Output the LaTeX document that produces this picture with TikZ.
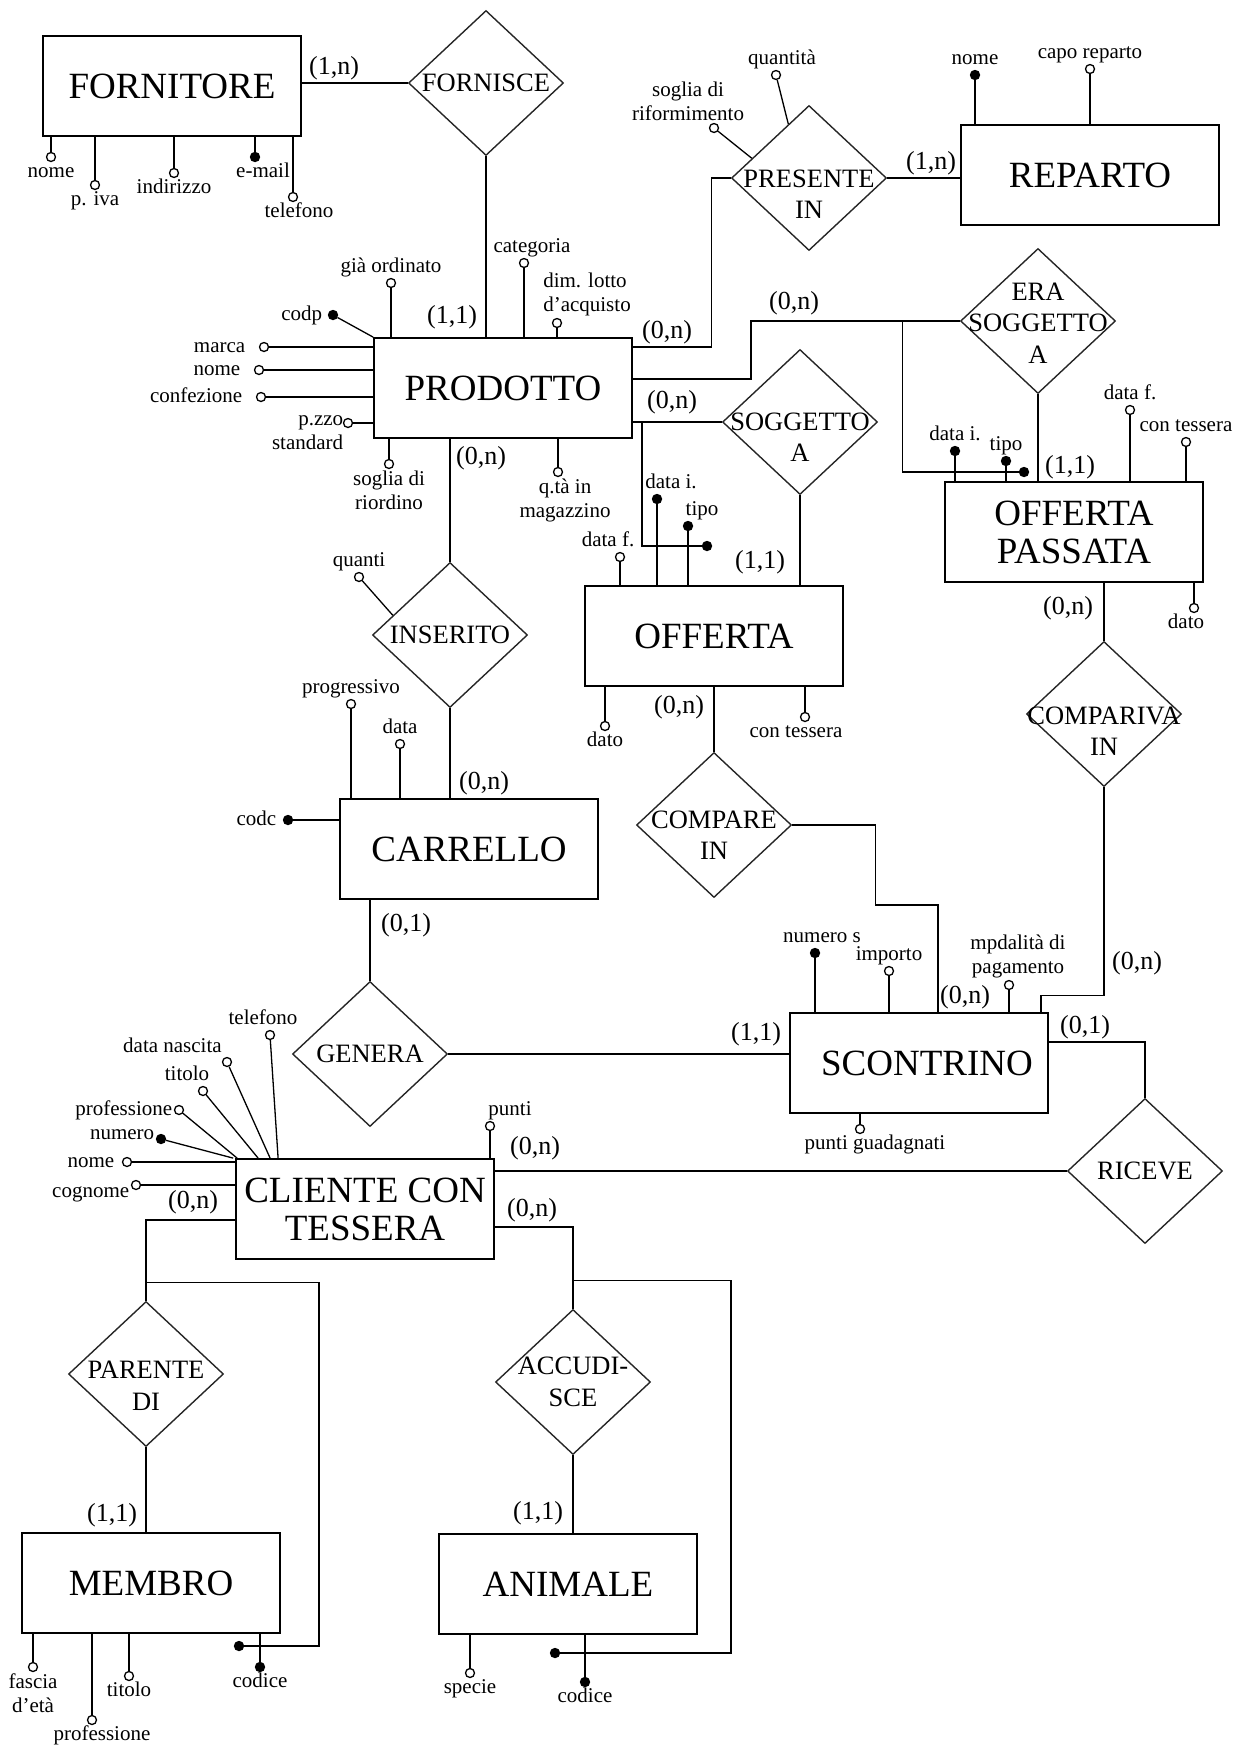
\documentclass[tikz,border=0pt]{standalone}
\usepackage{fontspec}
\setmainfont{Liberation Serif}
\usetikzlibrary{shapes.geometric, positioning, calc}

\begin{document}
\begin{tikzpicture}[
    x=1pt, y=-1pt, line width=1.3pt,
    entity/.style={draw, line width=1.8pt, minimum width=258pt, minimum height=100pt, align=center, font=\fontsize{37}{38}\selectfont},
    rel/.style={draw=black!85, diamond, line width=1.4pt, inner sep=0pt, minimum width=155pt, minimum height=145pt},
    reltxt/.style={inner sep=0pt, align=center, font=\fontsize{26.5}{31.5}\selectfont},
    attr/.style={circle, draw, fill=white, line width=1.3pt, inner sep=0pt, minimum size=9pt, label distance=2pt},
    key/.style={attr, fill=black},
    abase/.style={inner sep=1pt, font=\fontsize{21}{24}\selectfont},
    alab/.style={abase, text height=14pt, text depth=4pt},
    alab2/.style={abase, align=center},
    card/.style={inner sep=0pt, font=\fontsize{26}{28}\selectfont},
]
\useasboundingbox (0,0) rectangle (1245,1751);

% Entities
\node[entity] (fornitore) at (172,86) {FORNITORE};
\node[entity] (reparto) at (1090,175) {REPARTO};
\node[entity] (prodotto) at (503,388) {PRODOTTO};
\node[entity] (offpass) at (1074,532) {OFFERTA\\PASSATA};
\node[entity] (offerta) at (714,636) {OFFERTA};
\node[entity] (carrello) at (469,849) {CARRELLO};
\node[entity] (scontrino) at (919,1063) {\hspace*{16pt}SCONTRINO};
\node[entity] (cliente) at (365,1209) {CLIENTE CON\\TESSERA};
\node[entity] (membro) at (151,1583) {MEMBRO};
\node[entity] (animale) at (568,1584) {ANIMALE};

% Relationships
\node[rel, label={[reltxt]center:FORNISCE}] (fornisce) at (486,83) {};
\node[rel, label={[reltxt, yshift=-16pt]center:PRESENTE\\IN}] (presente) at (809,178) {};
\node[rel, label={[reltxt, yshift=-2pt]center:ERA\\SOGGETTO\\A}] (erasogg) at (1038,321) {};
\node[rel, label={[reltxt, yshift=-15pt]center:SOGGETTO\\A}] (soggetto) at (800,422) {};
\node[rel, label={[reltxt]center:INSERITO}] (inserito) at (450,635) {};
\node[rel, label={[reltxt, yshift=-10pt]center:COMPARE\\IN}] (compare) at (714,825) {};
\node[rel, label={[reltxt, yshift=-17pt]center:COMPARIVA\\IN}] (comparivain) at (1104,714) {};
\node[rel, label={[reltxt]center:GENERA}] (genera) at (370,1054) {};
\node[rel, label={[reltxt]center:RICEVE}] (riceve) at (1145,1171) {};
\node[rel, label={[reltxt, yshift=-12pt]center:PARENTE\\DI}] (parente) at (146,1374) {};
\node[rel, label={[reltxt]center:ACCUDI-\\SCE}] (accudisce) at (573,1382) {};

% Links
\draw (fornitore.east |- fornisce.west) -- (fornisce.west);
\draw (fornisce.south) -- (fornisce.south |- prodotto.north);
\draw (presente.east) -- (presente.east -| reparto.west);
\draw ([yshift=-10pt]prodotto.north east) -| ([xshift=-19pt]presente.west) -- (presente.west);
\draw ([yshift=9pt]prodotto.east) -- ++(118,0) |- (erasogg.west);
\draw (prodotto.east |- soggetto.west) -- (soggetto.west);
\draw (erasogg.south) -- (erasogg.south |- offpass.north);
\draw (soggetto.south) -- (soggetto.south |- offerta.north);
\draw (inserito.north |- prodotto.south) -- (inserito.north);
\draw (inserito.south) -- (inserito.south |- carrello.north);
\draw (comparivain.north |- offpass.south) -- (comparivain.north);
\draw (comparivain.south) -- ++(0,208) -| ([xshift=-8pt]scontrino.north east);
\draw (compare.north |- offerta.south) -- (compare.north);
\draw (compare.east) -| ++(83,80) -| ([xshift=149pt]scontrino.north west);
\draw (genera.north |- carrello.south) -- (genera.north);
\draw (genera.east) -- (genera.east -| scontrino.west);
\draw ([yshift=21pt]scontrino.east) -| (riceve.north);
\draw (riceve.west) -- (riceve.west -| cliente.east);
\draw ([yshift=-18pt]cliente.east) -| (accudisce.north);
\draw ([yshift=-11pt]cliente.west) -| (parente.north);
\draw (parente.south) -- (parente.south |- membro.north);
\draw (accudisce.south) -- (accudisce.south |- animale.north);

% External identifiers
\node[key] (opkey) at (1024,472) {};
\node[key] (ofkey) at (707,546) {};
\node[key] (mkey) at (239,1646) {};
\node[key] (akey) at (555,1653) {};
\coordinate (jsog) at ($(prodotto.east |- soggetto.west)+(9,0)$);
\draw ([xshift=-57pt]erasogg.west) |- (opkey);
\draw (jsog) |- (ofkey);
\draw ($(parente.north)+(0,-18)$) -- ++(173,0) |- (mkey);
\draw ($(accudisce.north)+(0,-28)$) -- ++(158,0) |- (akey);

% Cardinalities
\node[card] (c1) at (334,68) {(1,n)};
\node[card] (c2) at (452,317) {(1,1)};
\node[card] (c3) at (667,332) {(0,n)};
\node[card] (c4) at (931,163) {(1,n)};
\node[card] (c5) at (794,303) {(0,n)};
\node[card] (c6) at (672,402) {(0,n)};
\node[card] (c7) at (1070,467) {(1,1)};
\node[card] (c8) at (760,562) {(1,1)};
\node[card] (c9) at (481,458) {(0,n)};
\node[card] (c10) at (484,783) {(0,n)};
\node[card] (c11) at (679,707) {(0,n)};
\node[card] (c12) at (1068,608) {(0,n)};
\node[card] (c13) at (406,925) {(0,1)};
\node[card] (c14) at (756,1034) {(1,1)};
\node[card] (c15) at (965,997) {(0,n)};
\node[card] (c16) at (1137,963) {(0,n)};
\node[card] (c17) at (1085,1027) {(0,1)};
\node[card] (c18) at (535,1148) {(0,n)};
\node[card] (c19) at (532,1210) {(0,n)};
\node[card] (c20) at (193,1202) {(0,n)};
\node[card] (c21) at (112,1515) {(1,1)};
\node[card] (c22) at (538,1513) {(1,1)};

% Attributes: FORNITORE
\node[attr, label={[alab]below:nome}] (fnome) at (51,157) {};
\node[attr, label={[alab]below:p. iva}] (fiva) at (95,185) {};
\node[attr, label={[alab]below:indirizzo}] (find) at (174,173) {};
\node[key, label={[alab, xshift=8pt]below:e-mail}] (fmail) at (255,157) {};
\node[attr, label={[alab, xshift=6pt]below:telefono}] (ftel) at (293,197) {};
\foreach \a in {fnome, fiva, find, fmail, ftel}
    \draw (\a) -- (\a |- fornitore.south);

% Attributes: REPARTO and PRESENTE IN
\node[key, label={[alab]above:nome}] (rnome) at (975,75) {};
\node[attr, label={[alab]above:capo reparto}] (rcapo) at (1090,69) {};
\foreach \a in {rnome, rcapo}
    \draw (\a) -- (\a |- reparto.north);
\node[attr, label={[alab, xshift=6pt]above:quantità}] (pquant) at (776,75) {};
\node[attr, label={[alab2, xshift=-26pt]above:soglia di\\riformimento}] (psogl) at (714,128) {};
\draw (pquant) -- (presente.111);
\draw (psogl) -- (presente.161);

% Attributes: PRODOTTO
\node[attr, label={[alab]above:già ordinato}] (pgia) at (391,283) {};
\node[attr, label={[alab, xshift=8pt]above:categoria}] (pcat) at (524,263) {};
\node[attr, label={[alab2, align=left, xshift=30pt]above:dim. lotto\\d'acquisto}] (plotto) at (557,323) {};
\foreach \a in {pgia, pcat, plotto}
    \draw (\a) -- (\a |- prodotto.north);
\node[key, label={[alab, xshift=-4pt]left:codp}] (pcodp) at (333,315) {};
\draw (pcodp) -- (prodotto.north west);
\node[attr, label={[alab, xshift=-12pt]left:marca}] (pmarca) at (264,347) {};
\node[attr, label={[alab, xshift=-12pt]left:nome}] (pnome) at (259,370) {};
\node[attr, label={[alab, xshift=-12pt]left:confezione}] (pconf) at (261,397) {};
\node[attr, label={[alab2, align=right, xshift=2pt, yshift=-10pt]left:p.zzo\\standard}] (pprezzo) at (348,423) {};
\foreach \a in {pmarca, pnome, pconf, pprezzo}
    \draw (\a) -- (\a -| prodotto.west);
\node[attr, label={[alab2]below:soglia di\\riordino}] (priord) at (389,464) {};
\node[attr, label={[alab2, xshift=7pt]below:q.tà in\\magazzino}] (pqta) at (558,472) {};
\foreach \a in {priord, pqta}
    \draw (\a) -- (\a |- prodotto.south);

% Attributes: OFFERTA PASSATA
\node[key, label={[alab]above:data i.}] (opdatai) at (955,451) {};
\node[key, label={[alab]above:tipo}] (optipo) at (1006,461) {};
\node[attr, label={[alab]above:data f.}] (opdataf) at (1130,410) {};
\node[attr, label={[alab]above:con tessera}] (optess) at (1186,442) {};
\foreach \a in {opdatai, optipo, opdataf, optess}
    \draw (\a) -- (\a |- offpass.north);
\node[attr, label={[alab, xshift=-8pt]below:dato}] (opdato) at (1194,608) {};
\draw (opdato) -- (opdato |- offpass.south);

% Attributes: OFFERTA
\node[attr, label={[alab, xshift=-12pt]above:data f.}] (ofdataf) at (620,557) {};
\node[key, label={[alab, xshift=14pt]above:data i.}] (ofdatai) at (657,499) {};
\node[key, label={[alab, xshift=14pt]above:tipo}] (oftipo) at (688,526) {};
\foreach \a in {ofdataf, ofdatai, oftipo}
    \draw (\a) -- (\a |- offerta.north);
\node[attr, label={[alab]below:dato}] (ofdato) at (605,726) {};
\node[attr, label={[alab, xshift=-9pt]below:con tessera}] (oftess) at (805,717) {};
\foreach \a in {ofdato, oftess}
    \draw (\a) -- (\a |- offerta.south);

% Attributes: INSERITO and CARRELLO
\node[attr, label={[alab]above:quanti}] (iquanti) at (359,577) {};
\draw (iquanti) -- (inserito.161);
\node[attr, label={[alab]above:progressivo}] (cprog) at (351,704) {};
\node[attr, label={[alab]above:data}] (cdata) at (400,744) {};
\foreach \a in {cprog, cdata}
    \draw (\a) -- (\a |- carrello.north);
\node[key, label={[alab, xshift=-5pt]left:codc}] (ccodc) at (288,820) {};
\draw (ccodc) -- (ccodc -| carrello.west);

% Attributes: SCONTRINO
\node[key, label={[alab, xshift=7pt]above:numero s}] (snum) at (815,953) {};
\node[attr, label={[alab]above:importo}] (simp) at (889,971) {};
\node[attr, label={[alab2, xshift=9pt]above:mpdalità di\\pagamento}] (smod) at (1009,985) {};
\foreach \a in {snum, simp, smod}
    \draw (\a) -- (\a |- scontrino.north);
\node[attr, label={[alab, xshift=15pt]below:punti guadagnati}] (spunti) at (860,1129) {};
\draw (spunti) -- (spunti |- scontrino.south);

% Attributes: CLIENTE CON TESSERA
\node[attr, label={[alab, xshift=-7pt]above:telefono}] (ktel) at (270,1035) {};
\node[attr, label={[alab]above left:data nascita}] (knasc) at (227,1062) {};
\node[attr, label={[alab, xshift=-16pt]above:titolo}] (ktit) at (203,1091) {};
\node[attr, label={[alab]left:professione}] (kprof) at (179,1110) {};
\node[key, label={[alab, yshift=5pt]left:numero}] (knum) at (161,1139) {};
\draw (ktel) -- ([xshift=43pt]cliente.north west);
\draw (knasc) -- ([xshift=35pt]cliente.north west);
\draw (ktit) -- ([xshift=23pt]cliente.north west);
\draw (kprof) -- ([xshift=2pt]cliente.north west);
\draw (knum) -- ([xshift=-2pt]cliente.north west);
\node[attr, label={[alab, xshift=-6pt]left:nome}] (knome) at (127,1162) {};
\node[attr, label={[alab, yshift=-7pt]left:cognome}] (kcogn) at (136,1185) {};
\foreach \a in {knome, kcogn}
    \draw (\a) -- (\a -| cliente.west);
\node[attr, label={[alab, xshift=20pt]above:punti}] (kpunti) at (490,1126) {};
\draw (kpunti) -- (kpunti |- cliente.north);

% Attributes: MEMBRO and ANIMALE
\node[attr, label={[alab2]below:fascia\\d'età}] (mfascia) at (33,1667) {};
\node[attr, label={[alab, xshift=10pt]below:professione}] (mprof) at (92,1720) {};
\node[attr, label={[alab]below:titolo}] (mtit) at (129,1676) {};
\node[key, label={[alab]below:codice}] (mcod) at (260,1667) {};
\foreach \a in {mfascia, mprof, mtit, mcod}
    \draw (\a) -- (\a |- membro.south);
\node[attr, label={[alab]below:specie}] (aspecie) at (470,1673) {};
\node[key, label={[alab]below:codice}] (acod) at (585,1682) {};
\foreach \a in {aspecie, acod}
    \draw (\a) -- (\a |- animale.south);
\end{tikzpicture}
\end{document}
